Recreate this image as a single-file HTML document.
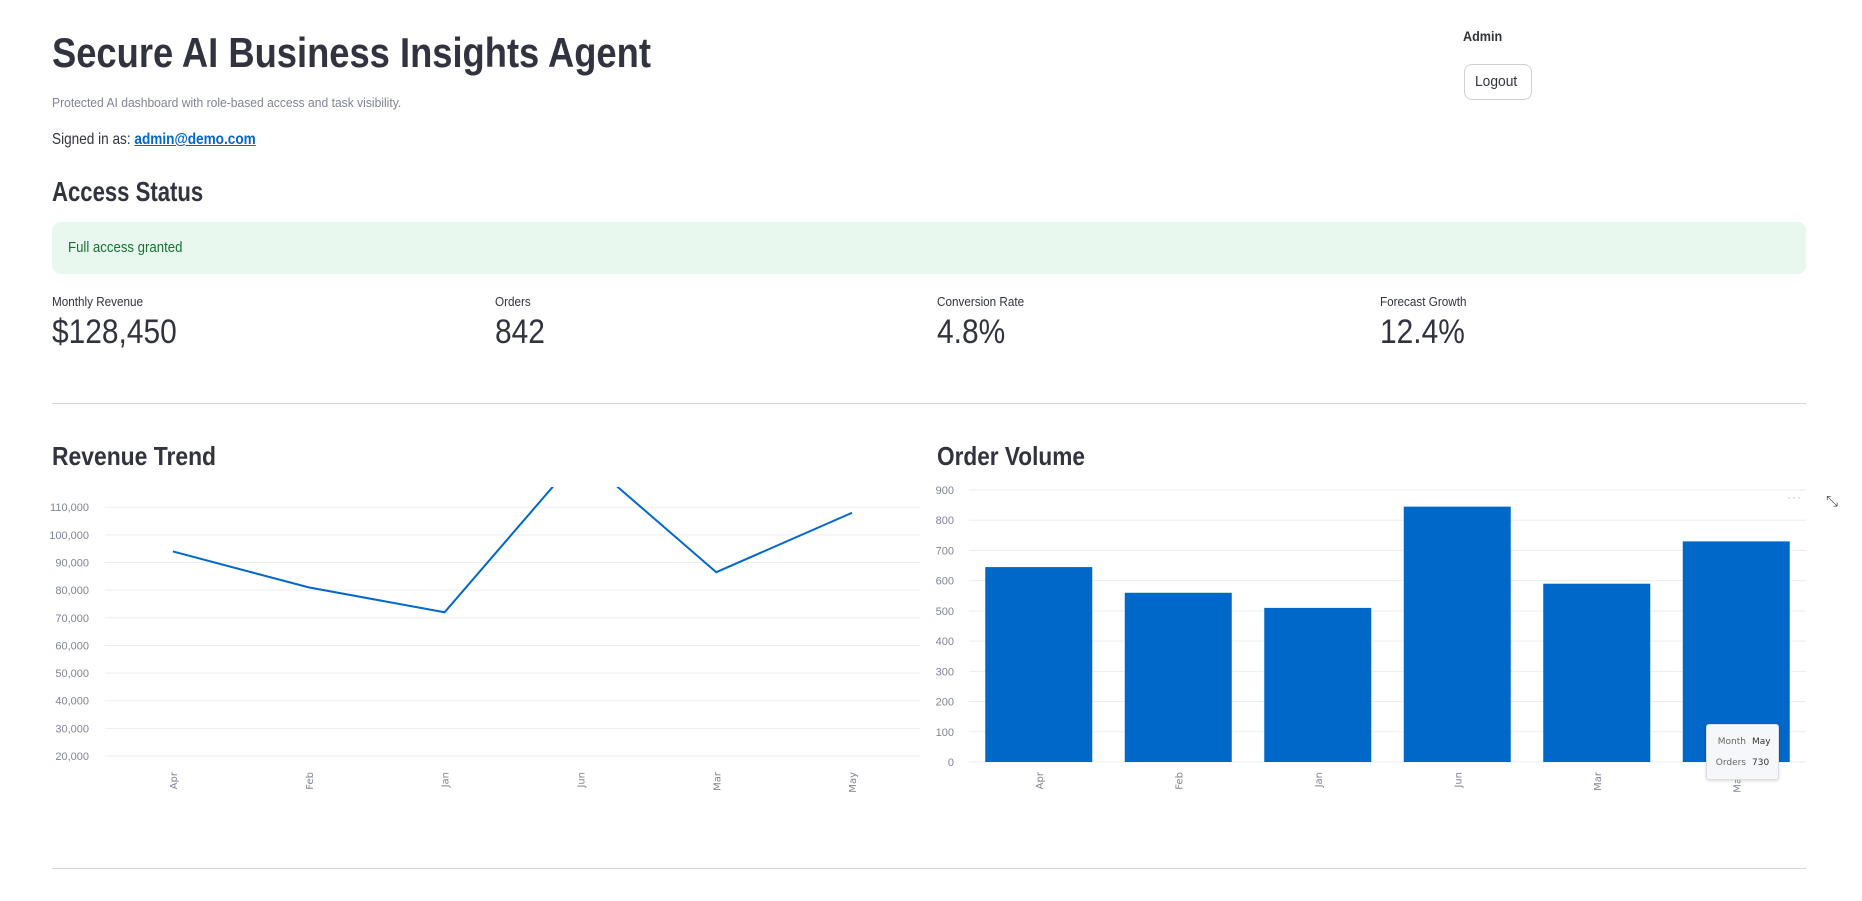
<!DOCTYPE html>
<html><head><meta charset="utf-8">
<style>
*{box-sizing:border-box;margin:0;padding:0}
body{width:1862px;height:901px;overflow:hidden;background:#fff;font-family:"Liberation Sans",sans-serif;color:#31333f;position:relative}
.a{position:absolute;white-space:nowrap}
.sx{display:inline-block;transform-origin:left center}
</style></head>
<body>
<div class="a" style="left:52px;top:28px;font-size:42px;font-weight:bold;line-height:50px"><span class="sx" style="transform:scaleX(0.865)">Secure AI Business Insights Agent</span></div>
<div class="a" style="left:52px;top:95px;font-size:13px;color:#808495"><span class="sx" style="transform:scaleX(0.93)">Protected AI dashboard with role-based access and task visibility.</span></div>
<div class="a" style="left:52px;top:131px;font-size:16px"><span class="sx" style="transform:scaleX(0.85)">Signed in as: <a style="color:#0068c9;font-weight:bold;text-decoration:underline">admin@demo.com</a></span></div>
<div class="a" style="left:1463px;top:28px;font-size:14px;font-weight:bold"><span class="sx" style="transform:scaleX(0.9)">Admin</span></div>
<div class="a" style="left:1464px;top:64px;width:68px;height:36px;border:1px solid #d0d1d6;border-radius:8px;font-size:15px;line-height:34px;text-align:center"><span class="sx" style="transform:scaleX(0.92)">Logout</span></div>
<div class="a" style="left:52px;top:176px;font-size:28px;font-weight:bold"><span class="sx" style="transform:scaleX(0.79)">Access Status</span></div>
<div class="a" style="left:52px;top:222px;width:1754px;height:52px;background:#e8f8ee;border-radius:8px;color:#177233;font-size:15px;line-height:52px;padding-left:16px"><span class="sx" style="transform:scaleX(0.88)">Full access granted</span></div>

<div class="a" style="left:52px;top:294px">
<div style="font-size:13px"><span class="sx" style="transform:scaleX(0.9)">Monthly Revenue</span></div>
<div style="font-size:34px;margin-top:4px"><span class="sx" style="transform:scaleX(0.88)">$128,450</span></div></div>
<div class="a" style="left:495px;top:294px">
<div style="font-size:13px"><span class="sx" style="transform:scaleX(0.9)">Orders</span></div>
<div style="font-size:34px;margin-top:4px"><span class="sx" style="transform:scaleX(0.88)">842</span></div></div>
<div class="a" style="left:937px;top:294px">
<div style="font-size:13px"><span class="sx" style="transform:scaleX(0.9)">Conversion Rate</span></div>
<div style="font-size:34px;margin-top:4px"><span class="sx" style="transform:scaleX(0.88)">4.8%</span></div></div>
<div class="a" style="left:1380px;top:294px">
<div style="font-size:13px"><span class="sx" style="transform:scaleX(0.9)">Forecast Growth</span></div>
<div style="font-size:34px;margin-top:4px"><span class="sx" style="transform:scaleX(0.88)">12.4%</span></div></div>

<div class="a" style="left:52px;top:403px;width:1754px;height:1px;background:#d6d6d9"></div>
<div class="a" style="left:52px;top:441px;font-size:26px;font-weight:bold"><span class="sx" style="transform:scaleX(0.88)">Revenue Trend</span></div>
<div class="a" style="left:937px;top:441px;font-size:26px;font-weight:bold"><span class="sx" style="transform:scaleX(0.87)">Order Volume</span></div>
<div class="a" style="left:52px;top:868px;width:1754px;height:1px;background:#d6d6d9"></div>

<svg class="a" style="left:0;top:0" width="1862" height="901" id="charts">
<defs><clipPath id="lc"><rect x="100" y="487" width="830" height="290"/></clipPath></defs>
<g id="line-chart"></g><g id="bar-chart"></g>
</svg>

<div class="a" style="left:1787px;top:490px;font-size:12px;color:#bbb;letter-spacing:1px">···</div>
<div class="a" style="left:1826px;top:493px;font-size:15px;color:#555">⤡</div>
<div class="a" style="left:1706px;top:724px;width:73px;height:56px;background:#f5f7fa;border:1px solid #dcdde1;border-radius:3px;box-shadow:0 1px 3px rgba(0,0,0,.15);font-size:9px;font-family:'DejaVu Sans',sans-serif">
<div style="position:absolute;right:32px;top:12px;color:#666">Month</div><div style="position:absolute;left:45px;top:12px;color:#333">May</div>
<div style="position:absolute;right:32px;top:33px;color:#666">Orders</div><div style="position:absolute;left:45px;top:33px;color:#333">730</div>
</div>

<script>
const lineCats=["Apr","Feb","Jan","Jun","Mar","May"];
const revenueValues=[94000,81000,72000,129000,86500,108000];
const revenueTicks=[20000,30000,40000,50000,60000,70000,80000,90000,100000,110000];
const barCats=["Apr","Feb","Jan","Jun","Mar","May"];
const orderValues=[645,560,510,845,590,730];
const orderTicks=[0,100,200,300,400,500,600,700,800,900];

const NS="http://www.w3.org/2000/svg";
function mk(t,a,p){const e=document.createElementNS(NS,t);for(const k in a)e.setAttribute(k,a[k]);p.appendChild(e);return e;}
const fmt=v=>v.toLocaleString("en-US");

// line chart
const lg=document.getElementById("line-chart");
const lx0=105,lx1=920,ly=v=>756-(v-20000)*0.002764;
const lbw=(lx1-lx0)/lineCats.length,lx=i=>lx0+lbw*(i+0.5);
revenueTicks.forEach(t=>{
 const g=mk("line",{x1:lx0,x2:lx1,y1:ly(t),y2:ly(t),stroke:"#ecedf1","stroke-width":1},lg);
 
 
 const tx=mk("text",{x:89,y:ly(t)+4,"text-anchor":"end","font-size":"11",fill:"#808495","font-family":"Liberation Sans, sans-serif"},lg);
 tx.textContent=fmt(t);
 
 
});
lineCats.forEach((c,i)=>{
 const tx=mk("text",{transform:`translate(${lx(i)+4},772) rotate(-90)`,"text-anchor":"end","font-size":"10",fill:"#808495","font-family":"DejaVu Sans, sans-serif"},lg);
 tx.textContent=c;
 
 
});
const pl=mk("polyline",{points:revenueValues.map((v,i)=>lx(i)+","+ly(v)).join(" "),fill:"none",stroke:"#0068c9","stroke-width":2,"clip-path":"url(#lc)"},lg);



// bar chart
const bg=document.getElementById("bar-chart");
const bx0=969,bx1=1806,by=v=>762-v*0.3022;
const bbw=(bx1-bx0)/barCats.length,bw=107;
orderTicks.forEach(t=>{
 const g=mk("line",{x1:bx0,x2:bx1,y1:by(t),y2:by(t),stroke:"#ecedf1","stroke-width":1},bg);
 
 
 const tx=mk("text",{x:954,y:by(t)+4,"text-anchor":"end","font-size":"11",fill:"#808495","font-family":"Liberation Sans, sans-serif"},bg);
 tx.textContent=t;
 
 
});
barCats.forEach((c,i)=>{
 const cx=bx0+bbw*(i+0.5);
 const r=mk("rect",{x:cx-bw/2,y:by(orderValues[i]),width:bw,height:by(0)-by(orderValues[i]),fill:"#0068c9"},bg);
 
 
 const tx=mk("text",{transform:`translate(${cx+4},772) rotate(-90)`,"text-anchor":"end","font-size":"10",fill:"#808495","font-family":"DejaVu Sans, sans-serif"},bg);
 tx.textContent=c;
 
 
});
</script>
</body></html>
